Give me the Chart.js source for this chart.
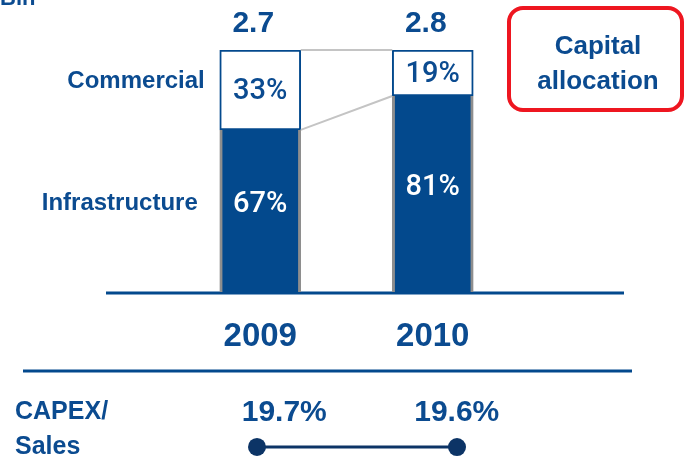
<!DOCTYPE html>
<html>
<head>
<meta charset="utf-8">
<title>Capital allocation</title>
<script src="https://cdn.jsdelivr.net/npm/chart.js@4.4.1/dist/chart.umd.min.js"></script>
<style>
  html, body { margin: 0; padding: 0; background: #fff; }
  #wrap { position: relative; width: 684px; height: 461px; }
</style>
</head>
<body>
<div id="wrap"><canvas id="capexChart" width="684" height="461"></canvas></div>
<script>
// CAPEX split by segment (share of total), totals in Bln and CAPEX/Sales ratio
const years = ['2009', '2010'];
const infrastructureShare = [67, 81];
const commercialShare = [33, 19];
const capexTotals = [2.7, 2.8];
const capexToSales = [19.7, 19.6];

const BLUE = '#03498d';
const TEXT_BLUE = '#0b4b90';
const NAVY = '#0c3466';
const FONT = "'Liberation Sans', Arial, sans-serif";

function text(ctx, str, x, y, font, color, align, baseline) {
    ctx.font = font;
    ctx.fillStyle = color;
    ctx.textAlign = align || 'center';
    ctx.textBaseline = baseline || 'alphabetic';
    ctx.fillText(str, x, y);
}

// Rules, connectors and all the text around the bars
const decorations = {
    id: 'decorations',
    beforeDatasetsDraw(chart) {
        const ctx = chart.ctx;
        const zero = chart.scales.y.getPixelForValue(0);
        ctx.save();
        ctx.strokeStyle = BLUE;
        ctx.lineWidth = 3;
        ctx.beginPath();
        ctx.moveTo(106, zero + 1);
        ctx.lineTo(624, zero + 1);
        ctx.moveTo(23, zero + 79);
        ctx.lineTo(632, zero + 79);
        ctx.stroke();
        ctx.restore();
    },
    afterDatasetsDraw(chart) {
        const ctx = chart.ctx;
        const infra = chart.getDatasetMeta(0).data;
        const comm = chart.getDatasetMeta(1).data;
        const half = infra[0].width / 2;
        ctx.save();

        // grey lines joining the commercial slices of both years
        ctx.strokeStyle = '#c4c4c4';
        ctx.lineWidth = 2;
        ctx.beginPath();
        ctx.moveTo(comm[0].x + half, comm[0].y);
        ctx.lineTo(comm[1].x - half, comm[1].y);
        ctx.moveTo(comm[0].x + half, comm[0].base);
        ctx.lineTo(comm[1].x - half, comm[1].base);
        ctx.stroke();

        infra.forEach((bar, i) => {
            const top = comm[i];
            text(ctx, capexTotals[i].toFixed(1), bar.x - 7, top.y - 18, 'bold 30px ' + FONT, TEXT_BLUE);
            text(ctx, commercialShare[i] + '%', bar.x, (top.y + top.base) / 2 + 2, '500 29px Roboto', TEXT_BLUE, 'center', 'middle');
            text(ctx, infrastructureShare[i] + '%', bar.x, (bar.y + bar.base) / 2 - 6, '500 29px Roboto', '#ffffff', 'center', 'middle');
            text(ctx, years[i], bar.x, bar.base + 54, 'bold 33px ' + FONT, TEXT_BLUE);
            text(ctx, capexToSales[i].toFixed(1) + '%', bar.x + 24, bar.base + 129, 'bold 30px ' + FONT, TEXT_BLUE);
        });

        // segment names left of the first column
        const c0 = comm[0], i0 = infra[0];
        text(ctx, chart.data.datasets[1].label, c0.x - half - 15, (c0.y + c0.base) / 2 - 9, 'bold 24px ' + FONT, TEXT_BLUE, 'right', 'middle');
        text(ctx, chart.data.datasets[0].label, i0.x - half - 22, (i0.y + i0.base) / 2 - 8, 'bold 24px ' + FONT, TEXT_BLUE, 'right', 'middle');

        text(ctx, 'Bln', 0, 5, 'bold 22px ' + FONT, TEXT_BLUE, 'left');
        text(ctx, 'CAPEX/', 15, 419, 'bold 25px ' + FONT, TEXT_BLUE, 'left');
        text(ctx, 'Sales', 15, 454, 'bold 25px ' + FONT, TEXT_BLUE, 'left');

        // red call-out box
        ctx.strokeStyle = '#ee1620';
        ctx.lineWidth = 4;
        ctx.beginPath();
        ctx.roundRect(509, 8, 173, 102, 14);
        ctx.stroke();
        text(ctx, 'Capital', 598, 54, 'bold 26px ' + FONT, TEXT_BLUE);
        text(ctx, 'allocation', 598, 89, 'bold 26px ' + FONT, TEXT_BLUE);
        ctx.restore();
    }
};

new Chart(document.getElementById('capexChart'), {
    type: 'bar',
    data: {
        labels: years,
        datasets: [
            {
                label: 'Infrastructure',
                data: infrastructureShare,
                stack: 'capex',
                grouped: false,
                backgroundColor: BLUE,
                borderColor: '#8e8e8e',
                borderWidth: { left: 3, right: 3, top: 0, bottom: 0 },
                barThickness: 81
            },
            {
                label: 'Commercial',
                data: commercialShare,
                stack: 'capex',
                grouped: false,
                backgroundColor: '#ffffff',
                borderColor: BLUE,
                borderWidth: 2,
                borderSkipped: false,
                barThickness: 81
            },
            {
                type: 'line',
                label: 'CAPEX/Sales',
                data: capexToSales.map((v, i) => ({ x: i, y: v })),
                xAxisID: 'xc',
                yAxisID: 'yc',
                borderColor: NAVY,
                borderWidth: 3,
                pointRadius: 9,
                pointBackgroundColor: NAVY,
                pointBorderWidth: 0,
                clip: false
            }
        ]
    },
    options: {
        responsive: false,
        animation: false,
        layout: { autoPadding: false, padding: { left: 174, right: 165, top: 50, bottom: 0 } },
        plugins: {
            legend: { display: false },
            tooltip: { enabled: false }
        },
        scales: {
            x: { display: false, stacked: true },
            y: { display: false, stacked: true, min: -69.8, max: 100 },
            xc: { type: 'linear', display: false, offset: false, min: -0.415, max: 1.31 },
            yc: { type: 'linear', display: false, min: 0, max: 577 }
        }
    },
    plugins: [decorations]
});
</script>
</body>
</html>
